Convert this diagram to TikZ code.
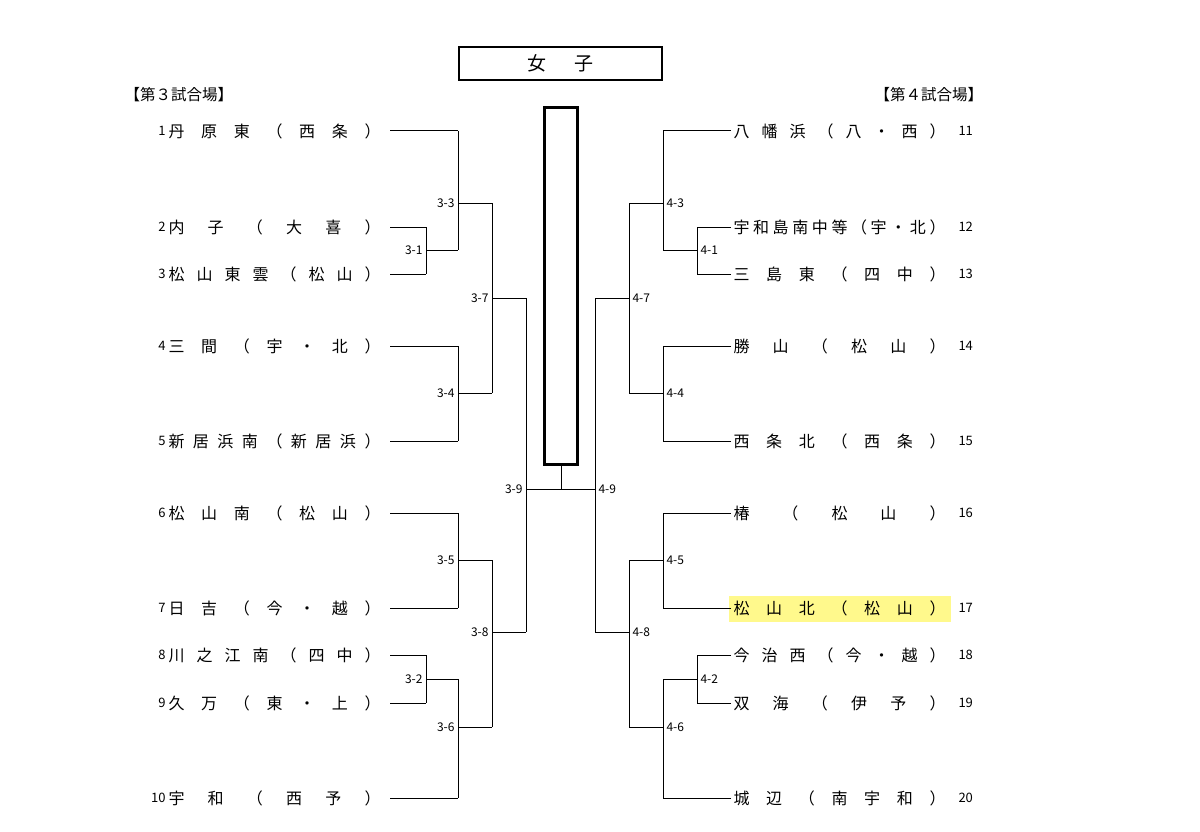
\documentclass[tikz,border=0pt]{standalone}
\usepackage{fontspec}
\setmainfont{Noto Sans CJK JP}
\begin{document}
\begin{tikzpicture}[x=1pt,y=-1pt,line width=1pt,
  tm/.style={anchor=west,inner sep=0pt,font=\fontsize{16}{16}\selectfont},
  num/.style={inner sep=0pt,font=\fontsize{13}{13}\selectfont},
  lab/.style={inner sep=3pt,font=\fontsize{12}{12}\selectfont}]
\useasboundingbox[fill=white] (0,0) rectangle (1200,832);
\newcommand{\teamL}[4]{\node[num,anchor=east] (n#1) at (166,#2) {#1};
  \node[tm] (t#1) at (168,#2) {\makebox[212pt][s]{#3}};
  \coordinate (e#1) at (390,#2);\coordinate (f#1) at (#4,#2);\draw (e#1)--(f#1);}
\newcommand{\teamR}[4]{\node[num,anchor=west] (n#1) at (958,#2) {#1};
  \node[tm] (t#1) at (733,#2) {\makebox[212pt][s]{#3}};
  \coordinate (e#1) at (731,#2);\coordinate (f#1) at (#4,#2);\draw (e#1)--(f#1);}
\newcommand{\junc}[6]{%
  \coordinate (a#1) at (#2,#3);\coordinate (b#1) at (#2,#4);
  \coordinate (m#1) at (#2,#5);\coordinate (o#1) at (#6,#5);
  \draw (a#1)--(b#1);\draw (m#1)--(o#1);}
\node[draw,line width=2pt,minimum width=203pt,minimum height=33pt,font=\fontsize{19}{19}\selectfont] (title) at (560.5,63.5) {女\hspace{1.5em}子};
\node[draw,line width=2.5pt,minimum width=33pt,minimum height=357pt,inner sep=0pt] (win) at (561,286) {};
\node[anchor=west,inner sep=0pt,font=\fontsize{15.5}{15.5}\selectfont] (h3) at (124,95) {【第３試合場】};
\node[anchor=west,inner sep=0pt,font=\fontsize{15.5}{15.5}\selectfont] (h4) at (874,95) {【第４試合場】};
\fill[yellow!45] (729,596) rectangle (951,622);
\teamL{1}{131}{丹 原 東 （ 西 条 ）}{458}
\teamL{2}{227}{内 子 （ 大 喜 ）}{426}
\teamL{3}{274}{松 山 東 雲 （ 松 山 ）}{426}
\teamL{4}{346}{三 間 （ 宇 ・ 北 ）}{458}
\teamL{5}{441}{新 居 浜 南 （ 新 居 浜 ）}{458}
\teamL{6}{513}{松 山 南 （ 松 山 ）}{458}
\teamL{7}{608}{日 吉 （ 今 ・ 越 ）}{458}
\teamL{8}{655}{川 之 江 南 （ 四 中 ）}{426}
\teamL{9}{703}{久 万 （ 東 ・ 上 ）}{426}
\teamL{10}{798}{宇 和 （ 西 予 ）}{458}
\teamR{11}{131}{八 幡 浜 （ 八 ・ 西 ）}{663}
\teamR{12}{227}{宇 和 島 南 中 等 （ 宇 ・ 北 ）}{697}
\teamR{13}{274}{三 島 東 （ 四 中 ）}{697}
\teamR{14}{346}{勝 山 （ 松 山 ）}{663}
\teamR{15}{441}{西 条 北 （ 西 条 ）}{663}
\teamR{16}{513}{椿 （ 松 山 ）}{663}
\teamR{17}{608}{松 山 北 （ 松 山 ）}{663}
\teamR{18}{655}{今 治 西 （ 今 ・ 越 ）}{697}
\teamR{19}{703}{双 海 （ 伊 予 ）}{697}
\teamR{20}{798}{城 辺 （ 南 宇 和 ）}{663}
\junc{31}{426}{227}{274}{250}{458}
\junc{32}{426}{655}{703}{679}{458}
\junc{33}{458}{131}{250}{203}{492}
\junc{34}{458}{346}{441}{393}{492}
\junc{35}{458}{513}{608}{560}{492}
\junc{36}{458}{679}{798}{727}{492}
\junc{37}{492}{203}{393}{298}{526}
\junc{38}{492}{560}{727}{632}{526}
\junc{39}{526}{298}{632}{489}{561}
\junc{41}{697}{227}{274}{250}{663}
\junc{42}{697}{655}{703}{679}{663}
\junc{43}{663}{131}{250}{203}{629}
\junc{44}{663}{346}{441}{393}{629}
\junc{45}{663}{513}{608}{560}{629}
\junc{46}{663}{679}{798}{727}{629}
\junc{47}{629}{203}{393}{298}{595}
\junc{48}{629}{560}{727}{632}{595}
\junc{49}{595}{298}{632}{489}{561}
\draw (o39)--(win.south);
\foreach \k in {1,...,9}{\node[lab,anchor=east] (l3\k) at (m3\k) {3-\k};
  \node[lab,anchor=west] (l4\k) at (m4\k) {4-\k};}
\end{tikzpicture}
\end{document}
